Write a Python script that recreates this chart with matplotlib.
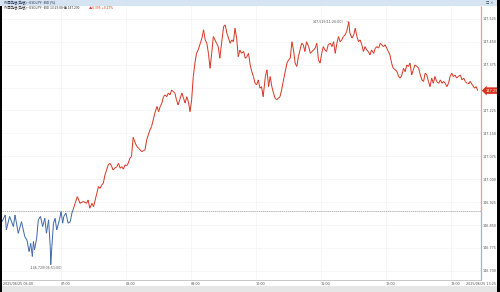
import numpy as np
import matplotlib.pyplot as plt
from matplotlib.collections import LineCollection
from matplotlib.patches import Rectangle

# minutes after 06:00 (2025/06/25), one hour per row
minutes = [
    6, 9, 10, 13, 16.5, 18, 21, 24, 27, 29, 31, 32.5, 34, 35, 36, 38, 39.5, 41.5, 43.5, 45.5,
    47, 49, 50.5, 51, 52, 53.5, 55, 56.5, 59,
    60.5, 62, 63, 65, 67, 69, 70.5, 71.5, 73.5, 75.5, 78, 81, 84, 85.5, 87, 89, 90.5, 92,
    93.5, 95, 96.5, 98, 99.5, 101, 102.5, 104, 105.5, 107, 108.5, 110, 112, 113.5, 115,
    116.5, 118, 119.5,
    121, 122.5, 124, 125.5, 127, 129, 130.5, 132, 133.5, 135, 136.5, 138, 139.5, 141, 142.5,
    144, 145.5, 147, 149, 150.5, 152, 153.5, 155, 156.5, 158, 159.5, 161, 162.5, 164, 165.5,
    167, 168.5, 170, 172, 173.5, 175, 176.5, 178, 179.5,
    181, 182.5, 184, 185.5, 187, 189, 190.5, 192, 193.5, 195, 196.5, 198, 199.5, 201, 202.5,
    204, 205.5, 207, 209, 210.5, 212, 213.5, 215, 216.5, 218, 219.5, 221, 222.5, 224, 225.5,
    227, 229, 230.5, 232, 233.5, 235, 236.5, 238, 239.5,
    241, 242.5, 244, 245.5, 247, 249, 250.5, 252, 253.5, 255, 256.5, 258, 259.5, 261, 262.5,
    264, 265.5, 267, 269, 270.5, 272, 273.5, 275, 276.5, 278, 279.5, 281, 282.5, 284, 285.5,
    287, 289, 290.5, 292, 293.5, 295, 296.5, 298, 299.5,
    301, 302.5, 304, 305.5, 307, 309, 310.5, 312, 313.5, 315, 316.5, 318, 319.5, 321, 322.5,
    324, 326, 327, 329, 330.5, 332, 333.5, 335, 336.5, 338, 339.5, 341, 342.5, 344, 345.5,
    347, 349, 350.5, 352, 353.5, 355, 356.5, 358, 359.5,
    361, 362.5, 364, 365.5, 367, 369, 370.5, 372, 373.5, 375, 376.5, 378, 379.5, 381, 382.5,
    384, 385.5, 387, 389, 390.5, 392, 393.5, 395, 396.5, 398, 399.5, 401, 402.5, 404, 405.5,
    407, 409, 410.5, 412, 413.5, 415, 416.5, 418, 419.5,
    421, 422.5, 424, 425.5, 427, 429, 430.5, 432, 433.5, 435, 436.5, 438, 440, 442, 443.5, 445,
]

prices = [
    146.861, 146.883, 146.834, 146.878, 146.845, 146.883, 146.823, 146.861, 146.812, 146.801,
    146.763, 146.790, 146.747, 146.796, 146.769, 146.807, 146.867, 146.878, 146.845, 146.872,
    146.823, 146.867, 146.779, 146.720, 146.779, 146.856, 146.872, 146.834, 146.867,
    146.894, 146.856, 146.878, 146.889, 146.856, 146.861, 146.889, 146.899, 146.921, 146.943,
    146.921, 146.927, 146.921, 146.932, 146.905, 146.921, 146.910, 146.932, 146.954, 146.976,
    146.970, 146.981, 146.987, 147.014, 147.030, 147.047, 147.052, 147.044, 147.030, 147.036,
    147.041, 147.052, 147.036, 147.041, 147.033, 147.047,
    147.044, 147.052, 147.069, 147.074, 147.137, 147.118, 147.107, 147.101, 147.096, 147.090,
    147.094, 147.096, 147.129, 147.145, 147.161, 147.172, 147.194, 147.216, 147.238, 147.221,
    147.238, 147.249, 147.270, 147.276, 147.270, 147.282, 147.276, 147.292, 147.287, 147.282,
    147.260, 147.243, 147.260, 147.282, 147.265, 147.249, 147.270, 147.254, 147.221,
    147.260, 147.336, 147.380, 147.412, 147.423, 147.445, 147.462, 147.489, 147.456, 147.445,
    147.412, 147.363, 147.412, 147.467, 147.456, 147.445, 147.434, 147.396, 147.456, 147.500,
    147.505, 147.478, 147.462, 147.445, 147.456, 147.450, 147.494, 147.462, 147.401, 147.423,
    147.412, 147.418, 147.396, 147.401, 147.412, 147.374, 147.352, 147.336, 147.314,
    147.309, 147.325, 147.298, 147.303, 147.270, 147.336, 147.358, 147.303, 147.336, 147.303,
    147.282, 147.265, 147.260, 147.265, 147.270, 147.292, 147.320, 147.347, 147.380, 147.391,
    147.396, 147.450, 147.423, 147.380, 147.369, 147.401, 147.423, 147.445, 147.440, 147.418,
    147.450, 147.434, 147.412, 147.418, 147.423, 147.429, 147.445, 147.391, 147.380,
    147.412, 147.434, 147.423, 147.418, 147.440, 147.445, 147.434, 147.450, 147.412, 147.445,
    147.467, 147.450, 147.456, 147.467, 147.472, 147.483, 147.515, 147.478, 147.462, 147.472,
    147.494, 147.467, 147.450, 147.456, 147.440, 147.418, 147.434, 147.423, 147.418, 147.407,
    147.423, 147.412, 147.429, 147.434, 147.429, 147.445, 147.440, 147.434, 147.440,
    147.429, 147.418, 147.407, 147.380, 147.363, 147.358, 147.352, 147.336, 147.331, 147.341,
    147.363, 147.352, 147.374, 147.369, 147.380, 147.341, 147.358, 147.374, 147.369, 147.363,
    147.341, 147.325, 147.320, 147.347, 147.341, 147.320, 147.303, 147.331, 147.314, 147.336,
    147.320, 147.314, 147.325, 147.314, 147.320, 147.314, 147.303, 147.314, 147.336,
    147.347, 147.336, 147.341, 147.331, 147.336, 147.341, 147.325, 147.331, 147.320, 147.314,
    147.314, 147.320, 147.309, 147.298, 147.303, 147.290,
]

prev_close = 146.895
y_ticks = [146.700, 146.775, 146.850, 146.925, 147.000, 147.075, 147.150, 147.225,
           147.300, 147.375, 147.450, 147.525]
hour_ticks = [60, 120, 180, 240, 300, 360, 420]
hour_labels = ["07:00", "08:00", "09:00", "10:00", "11:00", "12:00", "13:00"]

RED = "#d8321f"
BLUE = "#3b67a8"
JP = ["Noto Sans CJK JP", "DejaVu Sans"]

t = np.array(minutes, dtype=float)
p = np.array(prices)
assert len(t) == len(p)

fig = plt.figure(figsize=(5, 2.92), dpi=100)
ax = fig.add_axes([0.004, 0.0411, 0.958, 0.9384])
ax.set_xlim(6, 448)
ax.set_ylim(146.670, 147.567)

# line coloured against the previous close
pts = np.column_stack([t, p])
segs = np.stack([pts[:-1], pts[1:]], axis=1)
mid = (p[:-1] + p[1:]) / 2
cols = [RED if m > prev_close else BLUE for m in mid]
ax.add_collection(LineCollection(segs, colors=cols, linewidths=0.7, zorder=3))

ax.axhline(prev_close, color="#9a9a9a", lw=0.5, ls=(0, (2, 1)), zorder=2)

ax.set_yticks(y_ticks)
ax.set_yticklabels([f"{v:.3f}" if abs(v - 147.300) > 1e-6 else "" for v in y_ticks])
ax.yaxis.tick_right()
ax.set_xticks(hour_ticks)
ax.set_xticklabels(hour_labels)
for lbl in ax.get_xticklabels():
    lbl.set_ha("left")
ax.tick_params(length=0, labelsize=2.4, colors="#555555", pad=1.2)
ax.grid(True, color="#e4e4e4", lw=0.4, ls=(0, (1, 1)))
for s in ["top", "left", "right"]:
    ax.spines[s].set_visible(False)
ax.spines["bottom"].set_color("#b0b0b0")
ax.spines["bottom"].set_linewidth(0.5)

# right axis line, red above the previous close and blue below
ax.vlines(448, prev_close, 147.567, colors="#e2a394", lw=0.9, clip_on=False)
ax.vlines(448, 146.670, prev_close, colors="#9fb3d2", lw=0.9, clip_on=False)

# high / low labels
hi = int(np.argmax(p))
lo = int(np.argmin(p))
ax.annotate(f"{p[hi]:.3f}(11:26:00)", xy=(t[hi], p[hi]), xytext=(-3.5, 0),
            textcoords="offset points", ha="right", va="center", fontsize=2.3,
            color="#555555", arrowprops=dict(arrowstyle="-", lw=0.4, color="#777777",
                                             shrinkA=0, shrinkB=0))
ax.annotate(f"–{p[lo]:.3f}(06:51:00)", xy=(t[lo], p[lo]), xytext=(-15, -2.2),
            textcoords="offset points", ha="left", va="center", fontsize=2.3,
            color="#555555")

# last price box
ax.annotate(f"{p[-1]:.3f}", xy=(1, p[-1]), xycoords=("axes fraction", "data"),
            xytext=(3.2, 0), textcoords="offset points", ha="left", va="center",
            fontsize=2.6, color="white", zorder=5, annotation_clip=False,
            bbox=dict(boxstyle="larrow,pad=0.35", fc=RED, ec="none"))

# edge date labels
fig.text(0.006, 0.026, "2025/06/25 06:00", fontsize=2.4, color="#555555", va="center")
fig.text(0.993, 0.026, "2025/06/25 13:25", fontsize=2.4, color="#555555", va="center",
         ha="right")

# window chrome
fig.add_artist(Rectangle((0, 1 - 6 / 292), 1, 6 / 292, transform=fig.transFigure,
                         fc="#d6e3f0", ec="none"))
fig.add_artist(Rectangle((0, 0), 2 / 500, 1 - 6 / 292, transform=fig.transFigure,
                         fc="black", ec="none"))
fig.add_artist(Rectangle((497 / 500, 0), 3 / 500, 1, transform=fig.transFigure,
                         fc="black", ec="none"))
fig.add_artist(Rectangle((2 / 500, 0), 495 / 500, 6 / 292, transform=fig.transFigure,
                         fc="#e6e6e6", ec="none"))
fig.text(0.008, 1 - 3 / 292, "外国為替(為替)--USDJPY--BID (%)", fontsize=2.4,
         color="#223355", va="center", family=JP)
fig.text(0.988, 1 - 3 / 292, "□ ×", fontsize=2.4, color="#334455", va="center",
         ha="right", family=JP)
fig.text(0.008, 1 - 8 / 292, "外国為替(為替)--USDJPY--BID 13:25:00 値 147.290",
         fontsize=2.4, color="#333333", va="center", family=JP)
fig.text(0.178, 1 - 8 / 292, "▲0.395  +0.27%", fontsize=2.4, color=RED, va="center",
         family=JP)

fig.savefig("out.png", dpi=100)
